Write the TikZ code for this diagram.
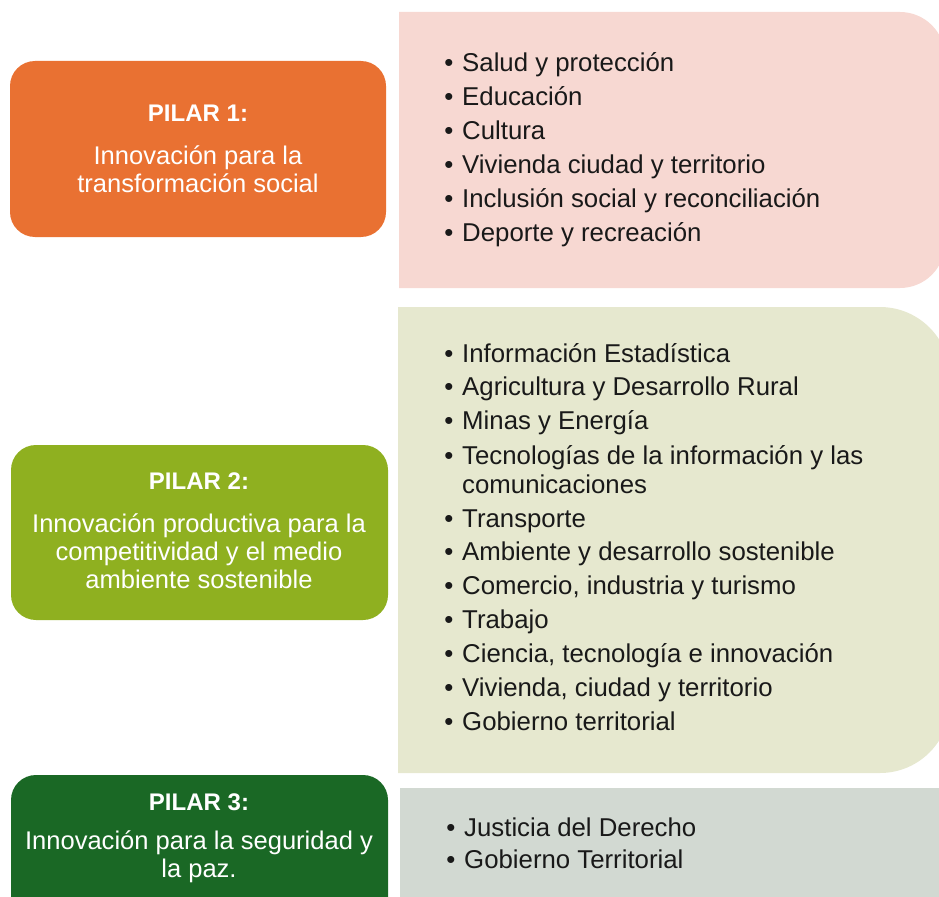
\documentclass[tikz,border=0pt]{standalone}
\usepackage{fontspec}
\setmainfont{Liberation Sans}
\usepackage{xcolor}

\definecolor{pilarOrange}{RGB}{233,113,50}
\definecolor{pilarLime}{RGB}{143,176,32}
\definecolor{pilarGreen}{RGB}{26,104,37}
\definecolor{panelPink}{RGB}{247,216,210}
\definecolor{panelCream}{RGB}{230,232,207}
\definecolor{panelGrey}{RGB}{210,217,210}
\definecolor{itemInk}{RGB}{25,25,25}

\tikzset{
    pilarbox/.style={rounded corners=0.75cm},
    pilartitle/.style={text=white, font=\fontsize{20.5}{24}\selectfont\bfseries},
    pilartext/.style={text=white, align=center, font=\fontsize{21.8}{24}\selectfont},
    itemdot/.style={text=itemInk, text height=19pt, text depth=4pt, font=\fontsize{22}{29}\selectfont},
    itemtext/.style={anchor=west, text=itemInk, text height=19pt, text depth=4pt, font=\fontsize{22}{29}\selectfont}
}

\begin{document}
\begin{tikzpicture}[x=0.03cm, y=-0.03cm, every node/.style={inner sep=0pt}]
            \useasboundingbox (0,0) rectangle (939,897);
            \clip (0,0) rectangle (939,897);
            % panels with the sectors
            \fill[panelPink] (399,12) -- (900,12) arc[start angle=90, end angle=0, radius=1.35cm]
                -- (945,243) arc[start angle=0, end angle=-90, radius=1.35cm] -- (399,288) -- cycle;
            \fill[panelCream] (398,307) -- (880,307) arc[start angle=90, end angle=0, radius=2.1cm]
                -- (950,703) arc[start angle=0, end angle=-90, radius=2.1cm] -- (398,773) -- cycle;
            \fill[panelGrey] (400,788) rectangle (950,910);
            % pilares
            \fill[pilarOrange, pilarbox] (10,61) rectangle (386,237);
            \fill[pilarLime, pilarbox] (11,445) rectangle (388,620);
            \fill[pilarGreen, pilarbox] (11,775) rectangle (388,930);
            \node[pilartitle] (p1title) at (198,113) {PILAR 1:};
            \node[pilartext] (p1text) at (198,169) {Innovación para la\\transformación social};
            \node[pilartitle] (p2title) at (199,481) {PILAR 2:};
            \node[pilartext] (p2text) at (199,551) {Innovación productiva para la\\competitividad y el medio\\ambiente sostenible};
            \node[pilartitle] (p3title) at (199,802) {PILAR 3:};
            \node[pilartext] (p3text) at (199,857) {Innovación para la seguridad y\\la paz.};
            % sectores pilar 1
            \foreach \y/\txt [count=\i] in {63/Salud y protección, 97/Educación, 131/Cultura,
                165/Vivienda ciudad y territorio, 199/Inclusión social y reconciliación, 233/Deporte y recreación} {
                \node[itemdot] (d1-\i) at (449,\y) {\textbullet};
                \node[itemtext] (s1-\i) at (462,\y) {\txt};
            }
            % sectores pilar 2
            \foreach \y/\txt [count=\i] in {354/Información Estadística, 387/Agricultura y Desarrollo Rural,
                421/Minas y Energía, 456/Tecnologías de la información y las, 519/Transporte,
                552/Ambiente y desarrollo sostenible, 586/{Comercio, industria y turismo}, 620/Trabajo,
                654/{Ciencia, tecnología e innovación}, 688/{Vivienda, ciudad y territorio}, 722/Gobierno territorial} {
                \node[itemdot] (d2-\i) at (449,\y) {\textbullet};
                \node[itemtext] (s2-\i) at (462,\y) {\txt};
            }
            \node[itemtext] (s2-extra) at (462,485) {comunicaciones};
            % sectores pilar 3
            \foreach \y/\txt [count=\i] in {828/Justicia del Derecho, 860/Gobierno Territorial} {
                \node[itemdot] (d3-\i) at (451,\y) {\textbullet};
                \node[itemtext] (s3-\i) at (464,\y) {\txt};
            }
        \end{tikzpicture}
\end{document}
